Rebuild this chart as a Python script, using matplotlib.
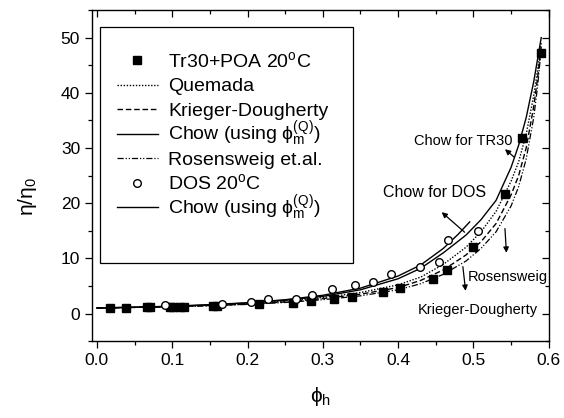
#!/usr/bin/env python3
"""Relative viscosity vs hydrodynamic volume fraction, with model curves."""

import matplotlib
matplotlib.use("Agg")
import matplotlib.pyplot as plt
from matplotlib.patches import Rectangle
from matplotlib.ticker import MultipleLocator

plt.rcParams["font.family"] = ["Liberation Sans", "DejaVu Sans"]
plt.rcParams["mathtext.default"] = "regular"

tr30_phi = [0.017, 0.039, 0.067, 0.071, 0.097, 0.101, 0.110, 0.115, 0.154, 0.159,
            0.215, 0.261, 0.284, 0.315, 0.339, 0.380, 0.402, 0.446, 0.465, 0.499,
            0.542, 0.564, 0.590]
tr30_eta = [1.0, 1.05, 1.1, 1.1, 1.15, 1.15, 1.2, 1.2, 1.4, 1.4,
            1.75, 1.9, 2.3, 2.65, 3.0, 3.9, 4.6, 6.3, 7.9, 12.0,
            21.7, 31.8, 47.3]

dos_phi = [0.090, 0.166, 0.205, 0.227, 0.264, 0.286, 0.312, 0.343, 0.367, 0.391,
           0.429, 0.454, 0.466, 0.506]
dos_eta = [1.45, 1.75, 2.05, 2.6, 2.6, 3.4, 4.4, 5.1, 5.7, 7.2,
           8.5, 9.3, 13.4, 14.9]

# model curves
curve_phi = [0.0, 0.05, 0.1, 0.15, 0.2, 0.25, 0.3, 0.35, 0.4, 0.43,
             0.46, 0.49, 0.51, 0.53, 0.55, 0.56, 0.57, 0.58, 0.585, 0.59]
chow_tr30 = [1.0, 1.13, 1.3, 1.55, 1.9, 2.4, 3.1, 4.3, 6.3, 8.2,
             11.0, 14.2, 17.0, 20.5, 26.5, 30.5, 35.5, 42.0, 46.0, 50.0]
quemada = [1.0, 1.12, 1.28, 1.5, 1.8, 2.25, 2.9, 3.8, 5.2, 6.6,
           8.9, 12.0, 14.8, 18.5, 24.0, 27.5, 32.5, 39.5, 44.0, 49.0]
krieger = [1.0, 1.1, 1.25, 1.45, 1.7, 2.1, 2.7, 3.5, 4.7, 6.0,
           7.9, 10.6, 13.0, 16.3, 21.5, 25.0, 30.0, 37.5, 42.5, 48.5]
rosensweig = [1.0, 1.1, 1.22, 1.4, 1.65, 2.0, 2.5, 3.2, 4.3, 5.4,
              7.1, 9.5, 11.8, 14.8, 19.5, 23.0, 28.0, 35.5, 41.0, 48.0]

chow_dos_phi = [0.0, 0.05, 0.1, 0.15, 0.2, 0.25, 0.3, 0.35, 0.4, 0.43, 0.46, 0.48, 0.495]
chow_dos = [1.0, 1.14, 1.32, 1.6, 1.95, 2.5, 3.3, 4.6, 6.8, 8.8, 11.8, 14.4, 16.6]

legend_labels = ["Tr30+POA 20$^o$C", "Quemada", "Krieger-Dougherty",
                 "Chow (using $\\phi_m^{(Q)}$)", "Rosensweig et.al.", "DOS 20$^o$C",
                 "Chow (using $\\phi_m^{(Q)}$)"]

DOTTED = (0, (1, 1.2))
DASHED = (0, (4, 2))
DASHDOTDOT = (0, (5, 1.5, 1, 1.5, 1, 1.5))

fig = plt.figure(figsize=(5.64, 4.18), dpi=100)
ax = fig.add_axes([0.163, 0.184, 0.810, 0.792])

sq = dict(marker="s", color="black", markersize=5.5, linestyle="none")
circ = dict(marker="o", markerfacecolor="white", markeredgecolor="black", markersize=5.5,
            markeredgewidth=1.0, linestyle="none")
styles = [sq,
          dict(color="black", lw=1.0, linestyle=DOTTED),
          dict(color="black", lw=1.0, linestyle=DASHED),
          dict(color="black", lw=1.0),
          dict(color="black", lw=0.9, linestyle=DASHDOTDOT),
          circ,
          dict(color="black", lw=1.0)]

ax.plot(tr30_phi, tr30_eta, zorder=4, **styles[0])
ax.plot(curve_phi, quemada, **styles[1])
ax.plot(curve_phi, krieger, **styles[2])
ax.plot(curve_phi, chow_tr30, **styles[3])
ax.plot(curve_phi, rosensweig, **styles[4])
ax.plot(dos_phi, dos_eta, zorder=4, **styles[5])
ax.plot(chow_dos_phi, chow_dos, **styles[6])

ax.set_xlim(-0.0066, 0.6)
ax.set_ylim(-5, 55)
ax.xaxis.set_major_locator(MultipleLocator(0.1))
ax.xaxis.set_minor_locator(MultipleLocator(0.05))
ax.yaxis.set_major_locator(MultipleLocator(10))
ax.yaxis.set_minor_locator(MultipleLocator(5))
ax.xaxis.set_major_formatter(plt.FuncFormatter(lambda v, p: f"{v:.1f}"))

ax.tick_params(which="both", direction="out", labelsize=12.5, width=0.9)
ax.tick_params(which="major", length=5)
ax.tick_params(which="minor", length=3)
ax.tick_params(which="both", top=True, right=True)
# top and right ticks point inwards
for t in ax.xaxis.get_ticklines(minor=False)[1::2] + ax.xaxis.get_ticklines(minor=True)[1::2]:
    t.set_marker(3)
for t in ax.yaxis.get_ticklines(minor=False)[1::2] + ax.yaxis.get_ticklines(minor=True)[1::2]:
    t.set_marker(0)
for s in ax.spines.values():
    s.set_linewidth(1.0)

ax.set_xlabel("\u03d5$_h$", fontsize=15, labelpad=12)
ax.set_ylabel("\u03b7/\u03b7$_0$", fontsize=15)
ax.yaxis.set_label_coords(-0.116, 0.438)

# legend box, laid out by hand so the rows are evenly spaced
ax.add_patch(Rectangle((0.0175, 0.2356), 0.5536, 0.713, transform=ax.transAxes,
                       facecolor="white", edgecolor="black", lw=0.9, zorder=5))
row_top, row_step = 0.849, 0.074
h_x0, h_x1, txt_x = 0.0547, 0.1444, 0.1663
for i, (lab, st) in enumerate(zip(legend_labels, styles)):
    yy = row_top - i * row_step
    if st.get("marker"):
        ax.plot([(h_x0 + h_x1) / 2], [yy], transform=ax.transAxes, zorder=6, clip_on=False, **st)
    else:
        ax.plot([h_x0, h_x1], [yy, yy], transform=ax.transAxes, zorder=6, clip_on=False, **st)
    ax.text(txt_x, yy - 0.021, lab, transform=ax.transAxes, fontsize=14, ha="left",
            va="baseline", zorder=6)

ann_arrow = dict(arrowstyle="-|>", color="black", lw=0.9, mutation_scale=8)
ax.annotate("", xy=(0.539, 30.1), xytext=(0.557, 28.0), arrowprops=ann_arrow)
ax.text(0.552, 31.3, "Chow for TR30", fontsize=10.5, ha="right", va="center")
ax.annotate("", xy=(0.455, 18.7), xytext=(0.491, 14.4), arrowprops=ann_arrow)
ax.text(0.449, 22.0, "Chow for DOS", fontsize=11.5, ha="center", va="center")
ax.annotate("", xy=(0.544, 10.5), xytext=(0.5416, 15.9), arrowprops=ann_arrow)
ax.text(0.4925, 6.6, "Rosensweig", fontsize=10.5, ha="left", va="center")
ax.annotate("", xy=(0.49, 3.6), xytext=(0.4855, 9.0), arrowprops=ann_arrow)
ax.text(0.426, 0.7, "Krieger-Dougherty", fontsize=10.5, ha="left", va="center")

fig.savefig("out.png", dpi=100)
plt.close(fig)
